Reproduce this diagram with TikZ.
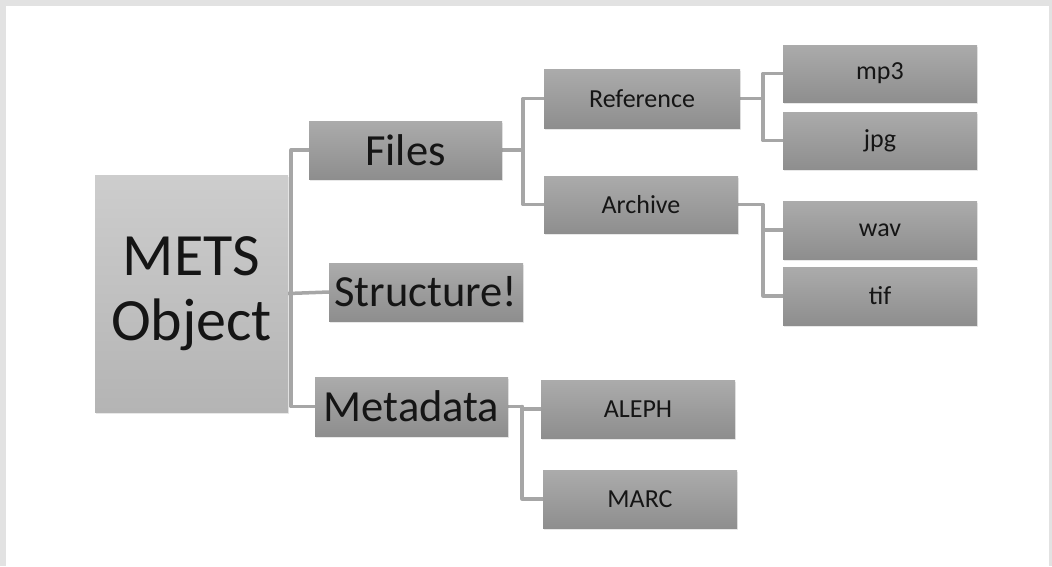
\documentclass[tikz,border=0pt]{standalone}
\usepackage{fontspec}
\setmainfont{Carlito}
\usetikzlibrary{shadows}
\pgfdeclarelayer{framelayer}
\pgfdeclarelayer{connlayer}
\pgfsetlayers{framelayer,connlayer,main}
\definecolor{frame}{HTML}{E2E2E2}
\definecolor{linec}{HTML}{A6A6A6}
\definecolor{boxtop}{HTML}{ABABAB}
\definecolor{boxbot}{HTML}{8E8E8E}
\definecolor{bigtop}{HTML}{CDCDCD}
\definecolor{bigbot}{HTML}{B4B4B4}
\definecolor{txt}{HTML}{151515}
\tikzset{
  box/.style={draw=none, inner sep=0pt, top color=boxtop, bottom color=boxbot,
    text=txt, drop shadow={opacity=0.18, shadow xshift=1pt, shadow yshift=-1.5pt}},
  bigbox/.style={box, top color=bigtop, bottom color=bigbot},
  lvlone/.style={box, font=\fontsize{44.5}{48}\selectfont, minimum height=58pt, minimum width=193pt},
  small/.style={box, font=\fontsize{26}{30}\selectfont, minimum height=58pt, minimum width=194pt},
  conn/.style={draw=linec, line width=3.5pt, line join=round, line cap=round}
}
\begin{document}
\begin{tikzpicture}[x=1pt,y=-1pt]
\begin{pgfonlayer}{framelayer}
\fill[frame] (0,0) rectangle (1052,566);
\fill[white] (6,6) rectangle (1049,566);
\end{pgfonlayer}
\useasboundingbox (0,0) rectangle (1052,566);

% nodes
\node[bigbox, minimum width=193pt, minimum height=237pt, align=center,
  font=\fontsize{60}{65}\selectfont] (mets) at (191.5,293.5) {METS\\Object};
\node[lvlone] (files) at (405.5,150) {Files};
\node[lvlone, minimum width=194pt] (structure) at (426,292) {Structure!};
\node[lvlone, minimum height=59pt] (metadata) at (411.5,406.5) {Metadata};
\node[small, minimum width=196pt, minimum height=59pt] (ref) at (642,98.5) {Reference};
\node[small, minimum height=57pt] (archive) at (641,204.5) {Archive};
\node[small, minimum height=57pt] (mp3) at (880,73.5) {mp3};
\node[small, minimum height=57pt] (jpg) at (880,140.5) {jpg};
\node[small] (wav) at (880,230) {wav};
\node[small] (tif) at (880,296) {tif};
\node[small] (aleph) at (638,409) {ALEPH};
\node[small] (marc) at (640,499) {MARC};

% junction coordinates
\coordinate (j0) at ([xshift=3pt]mets.east);
\coordinate (j1) at ([xshift=21pt]files.east);
\coordinate (j2) at ([xshift=23pt]ref.east);
\coordinate (j3) at ([xshift=25pt]archive.east);
\coordinate (j4) at ([xshift=14pt]metadata.east);

% connectors
\begin{pgfonlayer}{connlayer}
\draw[conn] (files.west) -| (j0) |- (metadata.west);
\draw[conn] (mets.east) -- (structure.west);
\draw[conn] (files.east) -- (j1);
\draw[conn] (ref.west) -| (j1) |- (archive.west);
\draw[conn] (ref.east) -- (j2);
\draw[conn] (mp3.west) -| (j2) |- (jpg.west);
\draw[conn] (archive.east) -| (j3 |- tif.west) -- (tif.west);
\draw[conn] (j3 |- wav.west) -- (wav.west);
\draw[conn] (metadata.east) -- (j4);
\draw[conn] (aleph.west) -| (j4) |- (marc.west);
\end{pgfonlayer}
\end{tikzpicture}
\end{document}
